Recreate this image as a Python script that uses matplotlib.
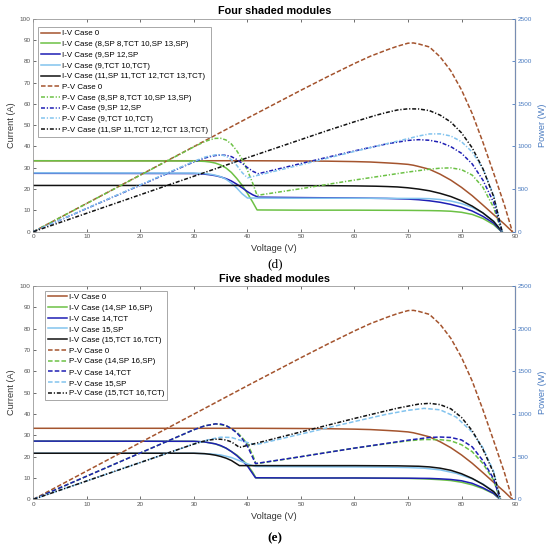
import matplotlib
matplotlib.use('Agg')
import matplotlib.pyplot as plt

plt.rcParams['font.family'] = ['Liberation Sans', 'DejaVu Sans']

# ---- shared case 0 (unshaded) ----
v_case0 = [0, 40, 50, 55, 60, 63, 66, 68, 69, 70, 71, 72, 74, 76, 78, 80, 82, 84, 86, 88, 89.5]
i_case0 = [33.3, 33.3, 33.2, 33.1, 32.9, 32.7, 32.3, 32.0, 31.8, 31.6, 31.2, 30.6, 29.3, 27.0, 24.2, 20.8, 16.9, 12.5, 8.0, 3.6, 0]
p_case0 = [0, 1332, 1660, 1820, 1974, 2060, 2132, 2176, 2194, 2212, 2215, 2203, 2168, 2052, 1888, 1664, 1386, 1050, 688, 317, 0]

# ---- (d) four shaded modules ----
v_d_a = [0, 30, 32, 33, 34, 35, 36, 37, 38, 39, 40, 41, 41.8, 50, 60, 70, 74, 76, 78, 80, 82, 84, 86, 87.5]
i_d_a = [33.3, 33.2, 33.0, 32.7, 32.2, 31.3, 29.9, 27.8, 25.0, 21.8, 18.0, 13.8, 10.2, 10.1, 10.1, 10.0, 9.9, 9.8, 9.6, 9.1, 8.1, 6.2, 3.3, 0]
p_d_a = [0, 996, 1056, 1079, 1095, 1096, 1076, 1029, 950, 850, 720, 566, 426, 505, 606, 700, 733, 745, 749, 728, 664, 521, 284, 0]

v_d_b = [0, 30, 32, 33, 34, 35, 36, 37, 38, 39, 40, 41, 42, 50, 60, 66, 70, 72, 74, 76, 78, 80, 82, 84, 86, 87.5]
i_d_b = [27.4, 27.3, 27.0, 26.7, 26.3, 25.7, 24.9, 23.8, 22.3, 20.6, 18.8, 17.3, 16.2, 16.0, 15.8, 15.6, 15.3, 15.0, 14.5, 13.8, 12.8, 11.5, 9.7, 7.2, 4.0, 0]
p_d_b = [0, 819, 864, 881, 894, 900, 896, 881, 847, 803, 752, 709, 680, 800, 948, 1030, 1071, 1080, 1073, 1049, 998, 920, 795, 605, 344, 0]

v_d_c = [0, 30, 32, 33, 34, 35, 36, 37, 38, 39, 40, 50, 60, 70, 72, 74, 76, 78, 80, 82, 84, 86, 87.6]
i_d_c = [27.6, 27.5, 27.3, 27.0, 26.5, 25.8, 24.6, 22.8, 20.5, 17.8, 15.8, 15.7, 15.7, 15.6, 15.6, 15.5, 15.1, 14.4, 13.2, 11.4, 8.8, 5.0, 0]
p_d_c = [0, 825, 874, 891, 901, 903, 886, 844, 779, 694, 632, 785, 942, 1092, 1123, 1147, 1148, 1123, 1056, 935, 739, 430, 0]

v_d_e = [0, 40, 55, 60, 64, 66, 68, 70, 72, 74, 76, 78, 80, 82, 84, 86, 87.6]
i_d_e = [21.7, 21.7, 21.6, 21.5, 21.35, 21.2, 21.0, 20.6, 20.0, 19.2, 18.0, 16.5, 14.5, 12.0, 8.8, 4.8, 0]
p_d_e = [0, 868, 1188, 1290, 1366, 1399, 1428, 1442, 1440, 1421, 1368, 1287, 1160, 984, 739, 413, 0]

names_d = ['Case 0', 'Case (8,SP 8,TCT 10,SP 13,SP)', 'Case (9,SP 12,SP',
           'Case (9,TCT 10,TCT)', 'Case (11,SP 11,TCT 12,TCT 13,TCT)']

# ---- (e) five shaded modules ----
v_e_a = [0, 30, 32, 34, 36, 38, 39, 40, 41, 41.6, 50, 60, 70, 73, 76, 78, 80, 82, 84, 86, 87.2]
i_e_a = [27.3, 27.2, 26.9, 26.0, 24.0, 20.8, 18.6, 16.2, 12.6, 10.0, 10.0, 10.0, 9.8, 9.6, 9.2, 8.8, 8.0, 6.8, 5.0, 2.6, 0]
p_e_a = [0, 816, 861, 884, 864, 790, 725, 648, 517, 416, 500, 600, 686, 701, 699, 686, 640, 558, 420, 224, 0]

v_e_b = [0, 30, 32, 34, 35, 36, 37, 38, 39, 40, 41.5, 50, 60, 70, 74, 76, 78, 80, 82, 84, 86, 87.2]
i_e_b = [27.3, 27.2, 26.9, 26.0, 25.2, 24.0, 22.4, 20.5, 18.2, 15.6, 10.1, 10.0, 10.0, 9.9, 9.8, 9.6, 9.3, 8.7, 7.5, 5.4, 2.8, 0]
p_e_b = [0, 816, 861, 884, 882, 864, 829, 779, 710, 624, 419, 500, 600, 693, 725, 730, 725, 696, 615, 454, 241, 0]

v_e_c = [0, 30, 33, 35, 37, 39, 40.5, 41.5, 50, 60, 66, 70, 73, 76, 79, 82, 84, 86, 87.2]
i_e_c = [21.6, 21.6, 21.3, 20.8, 19.6, 17.6, 16.2, 15.4, 15.3, 15.2, 15.1, 14.9, 14.6, 13.8, 12.2, 9.6, 7.2, 3.8, 0]
p_e_c = [0, 648, 703, 728, 725, 686, 656, 639, 765, 912, 997, 1043, 1066, 1049, 964, 787, 605, 327, 0]

v_e_e = [0, 30, 32, 33, 34, 35, 36, 37, 38, 38.5, 50, 60, 68, 72, 74, 76, 78, 80, 82, 84, 86, 87.3]
i_e_e = [21.6, 21.6, 21.4, 21.1, 20.7, 20.1, 19.3, 18.2, 16.6, 15.8, 15.8, 15.8, 15.7, 15.5, 15.2, 14.6, 13.6, 12.0, 9.8, 7.0, 3.6, 0]
p_e_e = [0, 648, 685, 696, 704, 704, 695, 673, 631, 608, 790, 948, 1068, 1116, 1125, 1110, 1061, 960, 804, 588, 310, 0]

names_e = ['Case 0', 'Case (14,SP 16,SP)', 'Case 14,TCT', 'Case 15,SP', 'Case (15,TCT 16,TCT)']

colors = ['#A4542E', '#6CC145', '#1E1EB4', '#82C3EE', '#111111']
DASH = (3, 1.4)
DASHDOT = (2.6, 1.2, 0.8, 1.2)
pv_styles_d = [DASH, DASHDOT, DASHDOT, DASHDOT, DASHDOT]
pv_styles_e = [DASH, DASH, DASH, DASH, DASHDOT]

GRAY = '#555555'
PBLUE = '#4A7BC0'


def draw_panel(ax, title, curves, names, pv_styles, leg_anchor):
    ax2 = ax.twinx()
    handles = []
    for (v, i, p), name, c in zip(curves, names, colors):
        h, = ax.plot(v, i, color=c, lw=1.1, label='I-V ' + name)
        handles.append(h)
    for (v, i, p), name, c, ds in zip(curves, names, colors, pv_styles):
        h, = ax2.plot(v, p, color=c, lw=1.1, dashes=ds, label='P-V ' + name)
        handles.append(h)

    ax.set_xlim(0, 90)
    ax.set_ylim(0, 100)
    ax2.set_ylim(0, 2500)
    ax.set_xticks(range(0, 91, 10))
    ax.set_yticks(range(0, 101, 10))
    ax2.set_yticks(range(0, 2501, 500))

    ax.tick_params(axis='x', direction='in', top=True, length=2.5, width=0.6,
                   labelsize=4.6, colors=GRAY, pad=2)
    ax.tick_params(axis='y', direction='in', length=2.5, width=0.6,
                   labelsize=4.6, colors=GRAY, pad=2)
    ax2.tick_params(axis='y', direction='in', length=2.5, width=0.6,
                    labelsize=4.6, colors=PBLUE, pad=2)
    for s in ['left', 'bottom', 'top']:
        ax.spines[s].set_color('#9a9a9a')
        ax.spines[s].set_linewidth(0.6)
    ax2.spines['right'].set_color('#8fa9d6')
    ax2.spines['right'].set_linewidth(0.6)
    for s in ['left', 'bottom', 'top']:
        ax2.spines[s].set_visible(False)

    ax.set_xlabel('Voltage (V)', fontsize=6.6, color='#333333', labelpad=3.5)
    ax.set_ylabel('Current (A)', fontsize=6.6, color='#333333', labelpad=3)
    ax2.set_ylabel('Power (W)', fontsize=6.6, color=PBLUE, labelpad=4)
    ax.set_title(title, fontsize=7.8, fontweight='bold', pad=3)

    leg = ax2.legend(handles=handles, loc='upper left', bbox_to_anchor=leg_anchor,
                     fontsize=5.7, labelspacing=0.4, handlelength=2.4,
                     handletextpad=0.25, borderpad=0.35, borderaxespad=0,
                     fancybox=False, framealpha=1)
    leg.get_frame().set_edgecolor('#9a9a9a')
    leg.get_frame().set_linewidth(0.6)
    return ax2


def main():
    fig = plt.figure(figsize=(5.5, 5.49), dpi=100)
    ax_d = fig.add_axes([0.0607, 0.578, 0.8757, 0.388])
    ax_e = fig.add_axes([0.0607, 0.0905, 0.8757, 0.3885])

    curves_d = [(v_case0, i_case0, p_case0), (v_d_a, i_d_a, p_d_a), (v_d_b, i_d_b, p_d_b),
                (v_d_c, i_d_c, p_d_c), (v_d_e, i_d_e, p_d_e)]
    curves_e = [(v_case0, i_case0, p_case0), (v_e_a, i_e_a, p_e_a), (v_e_b, i_e_b, p_e_b),
                (v_e_c, i_e_c, p_e_c), (v_e_e, i_e_e, p_e_e)]

    draw_panel(ax_d, 'Four shaded modules', curves_d, names_d, pv_styles_d, (0.01, 0.96))
    draw_panel(ax_e, 'Five shaded modules', curves_e, names_e, pv_styles_e, (0.024, 0.978))

    fig.text(0.5, 1 - 264 / 549, '(d)', ha='center', va='center', fontsize=9.5,
             family='Liberation Serif')
    fig.text(0.5, 1 - 538 / 549, '(e)', ha='center', va='center', fontsize=9.5,
             family='Liberation Serif', fontweight='bold')

    fig.savefig('out.png', dpi=100)


if __name__ == '__main__':
    main()
